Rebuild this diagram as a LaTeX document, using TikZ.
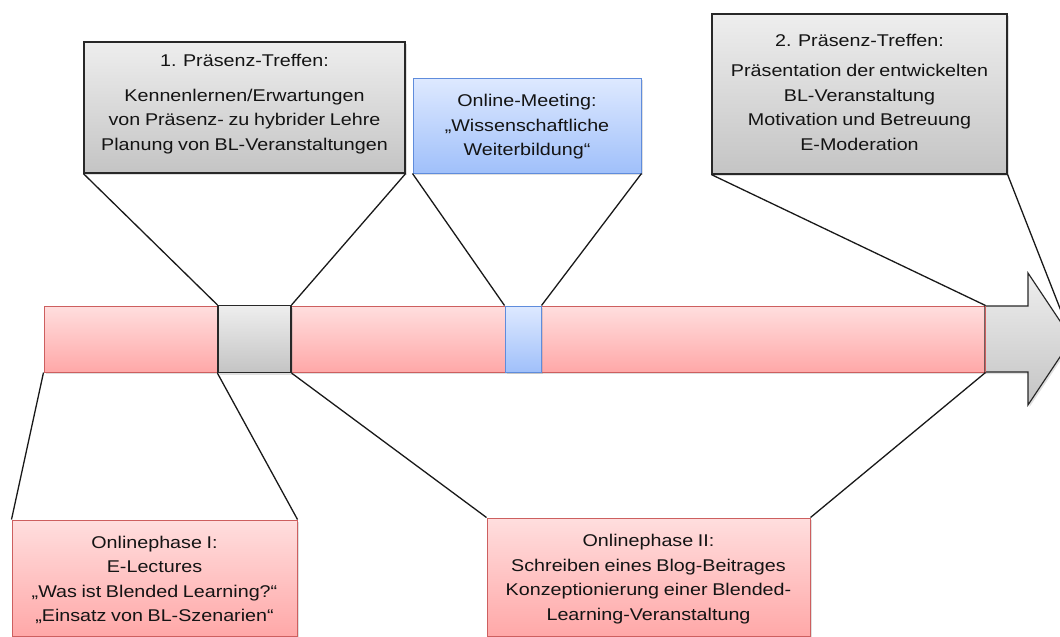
\documentclass[tikz,border=0pt]{standalone}
\usepackage{fontspec}
\setmainfont[FakeStretch=1.16,WordSpace=0.85]{Liberation Sans}
\usetikzlibrary{shadows}
\definecolor{pinkT}{RGB}{255,222,222}
\definecolor{pinkB}{RGB}{255,168,168}
\definecolor{pinkD}{RGB}{205,95,95}
\definecolor{grayT}{RGB}{238,238,238}
\definecolor{grayB}{RGB}{196,196,196}
\definecolor{grayD}{RGB}{40,40,40}
\definecolor{blueT}{RGB}{222,233,255}
\definecolor{blueB}{RGB}{160,192,250}
\definecolor{blueD}{RGB}{95,140,220}
\definecolor{txt}{RGB}{20,20,20}
\tikzset{
  x=1pt, y=-1pt,
  shad/.style={drop shadow={opacity=0.25, shadow xshift=1.5pt, shadow yshift=-2pt}},
  pinkbox/.style={draw=pinkD, line width=1pt, top color=pinkT, bottom color=pinkB, rectangle, inner sep=0pt, shad},
  graybox/.style={draw=grayD, line width=1.2pt, top color=grayT, bottom color=grayB, rectangle, inner sep=0pt, shad},
  bluebox/.style={draw=blueD, line width=1pt, top color=blueT, bottom color=blueB, rectangle, inner sep=0pt, shad},
  lbl/.style={align=center, inner sep=0pt, text=txt, font=\fontsize{17}{24.5}\selectfont},
  conn/.style={draw=black!90, line width=1.3pt},
}
\begin{document}
\begin{tikzpicture}
\useasboundingbox (0,0) rectangle (1060,637);
% bar segments
\node[pinkbox, minimum width=174pt, minimum height=66pt] (p1) at (131,339) {};
\node[pinkbox, minimum width=694pt, minimum height=66pt] (p2) at (638,339) {};
\node[bluebox, minimum width=36pt, minimum height=66pt, drop shadow={opacity=0}] (b) at (523,339) {};
\node[graybox, minimum width=73pt, minimum height=67pt] (g1) at (254.5,339) {};
% arrow head
\coordinate (tip) at (1072,339);
\path[graybox] (985,306) -- (1028,306) -- (1028,273) -- (tip) -- (1028,405) -- (1028,372) -- (985,372) -- cycle;
\draw[pinkD, line width=1pt] (p2.north east) -- (p2.south east);
% callout boxes
\node[graybox, minimum width=321pt, minimum height=131pt] (T1) at (244.5,107.5) {};
\node[bluebox, minimum width=228pt, minimum height=95pt] (B) at (527,125.5) {};
\node[graybox, minimum width=295pt, minimum height=160pt] (T2) at (859.5,94) {};
\node[pinkbox, minimum width=285pt, minimum height=116pt] (L1) at (154.5,578) {};
\node[pinkbox, minimum width=323pt, minimum height=118pt] (L2) at (648.5,577) {};
% connectors
\draw[conn] (T1.south west) -- (g1.north west);
\draw[conn] (T1.south east) -- (g1.north east);
\draw[conn] (B.south west) -- (b.north west);
\draw[conn] (B.south east) -- (b.north east);
\draw[conn] (T2.south west) -- (p2.north east);
\draw[conn] (T2.south east) -- (tip);
\draw[conn] (L1.north west) -- (p1.south west);
\draw[conn] (L1.north east) -- (g1.south west);
\draw[conn] (L2.north west) -- (g1.south east);
\draw[conn] (L2.north east) -- (p2.south east);
% texts
\node[lbl] (t1) at (244.5,104) {1. Präsenz-Treffen:\\[10pt]Kennenlernen/Erwartungen\\von Präsenz- zu hybrider Lehre\\Planung von BL-Veranstaltungen};
\node[lbl] (tb) at (527,127) {Online-Meeting:\\„Wissenschaftliche\\Weiterbildung“};
\node[lbl] (t2) at (859.5,92) {2. Präsenz-Treffen:\\[6pt]Präsentation der entwickelten\\BL-Veranstaltung\\Motivation und Betreuung\\E-Moderation};
\node[lbl] (l1) at (154.5,580) {Onlinephase I:\\E-Lectures\\„Was ist Blended Learning?“\\„Einsatz von BL-Szenarien“};
\node[lbl] (l2) at (648.5,579) {Onlinephase II:\\Schreiben eines Blog-Beitrages\\Konzeptionierung einer Blended-\\Learning-Veranstaltung};
\end{tikzpicture}
\end{document}
